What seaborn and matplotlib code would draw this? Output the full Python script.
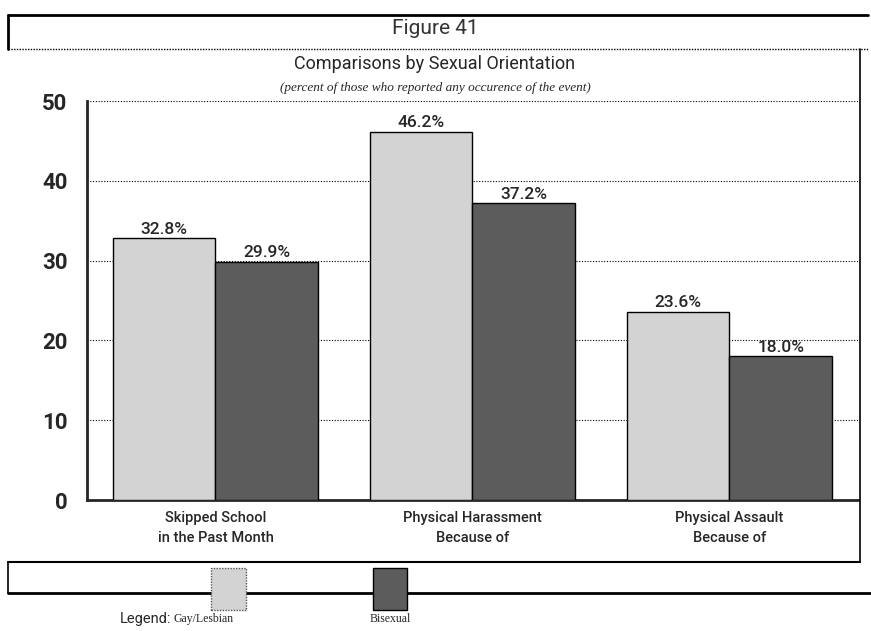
import pandas as pd
import numpy as np
import matplotlib
matplotlib.use("Agg")
import matplotlib.pyplot as plt
import seaborn as sns
from matplotlib.patches import Rectangle
from matplotlib.lines import Line2D

# Chart values
categories = ["Skipped School\nin the Past Month", "Physical Harassment\nBecause of", "Physical Assault\nBecause of"]
groups = ["Gay/Lesbian", "Bisexual"]
gay_lesbian = [32.8, 46.2, 23.6]
bisexual = [29.9, 37.2, 18.0]
y_ticks = [0, 10, 20, 30, 40, 50]

df = pd.DataFrame({
    "event": categories * 2,
    "group": [groups[0]] * 3 + [groups[1]] * 3,
    "percent": gay_lesbian + bisexual,
})

sns.set_style("white")
narrow = ["Liberation Sans Narrow", "Roboto", "DejaVu Sans"]
serif = ["Liberation Serif", "DejaVu Serif"]
plt.rcParams["font.family"] = narrow

colors = {"Gay/Lesbian": "#d3d3d3", "Bisexual": "#5c5c5c"}

fig = plt.figure(figsize=(8.71, 6.31), dpi=100)
ax = fig.add_axes([0.0999, 0.2076, 0.8851, 0.632])

sns.barplot(data=df, x="event", y="percent", hue="group", palette=colors,
            width=0.8, edgecolor="black", linewidth=1.0, saturation=1,
            ax=ax, zorder=3)
ax.get_legend().remove()

for cont in ax.containers:
    ax.bar_label(cont, fmt="%.1f%%", padding=1, fontsize=12.5, fontweight="medium", zorder=4)

ax.set_ylim(0, 50)
ax.set_xlim(-0.5, 2.5)
ax.set_yticks(y_ticks)
ax.set_yticklabels([str(t) for t in y_ticks], fontsize=16, fontweight="bold")
ax.tick_params(axis="y", length=0, pad=14)
ax.set_xticks(range(len(categories)))
ax.set_xticklabels(categories, fontsize=10.5, fontweight="medium", linespacing=1.5)
ax.tick_params(axis="x", length=0, pad=8)
ax.set_xlabel("")
ax.set_ylabel("")
ax.grid(axis="y", linestyle=(0, (1, 1.5)), color="black", linewidth=0.8, zorder=0)

ax.spines["top"].set_visible(False)
ax.spines["right"].set_visible(False)
ax.spines["left"].set_linewidth(2)
ax.spines["bottom"].set_linewidth(2)

W, H = 871, 631
def fx(px):
    return px / W
def fy(py):
    return 1 - py / H

# header box with figure number
fig.add_artist(Line2D([fx(8), fx(868)], [fy(15), fy(15)], color="black", lw=2))
fig.add_artist(Line2D([fx(8), fx(8)], [fy(15), fy(49)], color="black", lw=2))
fig.add_artist(Line2D([fx(8), fx(868)], [fy(49), fy(49)], color="black", lw=1,
                      linestyle=(0, (1, 1))))
fig.text(fx(435), fy(28), "Figure 41", ha="center", va="center", fontsize=15,
         color="#333333")

# right edge of the chart frame
fig.add_artist(Line2D([fx(860), fx(860)], [fy(49), fy(562)], color="black", lw=1.2))

fig.text(fx(435), fy(64), "Comparisons by Sexual Orientation", ha="center", va="center",
         fontsize=13)
fig.text(fx(435), fy(88), "(percent of those who reported any occurence of the event)",
         ha="center", va="center", fontsize=9.5, style="italic", family=serif)

# legend strip
fig.add_artist(Line2D([fx(8), fx(860)], [fy(562), fy(562)], color="black", lw=1.5))
fig.add_artist(Line2D([fx(8), fx(8)], [fy(562), fy(593)], color="black", lw=1.2))
fig.add_artist(Line2D([fx(8), fx(871)], [fy(593), fy(593)], color="black", lw=2))

fig.add_artist(Rectangle((fx(211), fy(610)), fx(35), fy(568) - fy(610),
                         facecolor=colors["Gay/Lesbian"], edgecolor="#555555", lw=1,
                         linestyle=(0, (1, 1)), zorder=5))
fig.add_artist(Rectangle((fx(373), fy(610)), fx(34), fy(568) - fy(610),
                         facecolor=colors["Bisexual"], edgecolor="black", lw=1, zorder=5))
fig.text(fx(120), fy(619), "Legend:", ha="left", va="center", fontsize=10.5)
fig.text(fx(173), fy(619), "Gay/Lesbian", ha="left", va="center", fontsize=8.5, family=serif)
fig.text(fx(390), fy(619), "Bisexual", ha="center", va="center", fontsize=8.5, family=serif)

fig.savefig("out.png", dpi=100)
